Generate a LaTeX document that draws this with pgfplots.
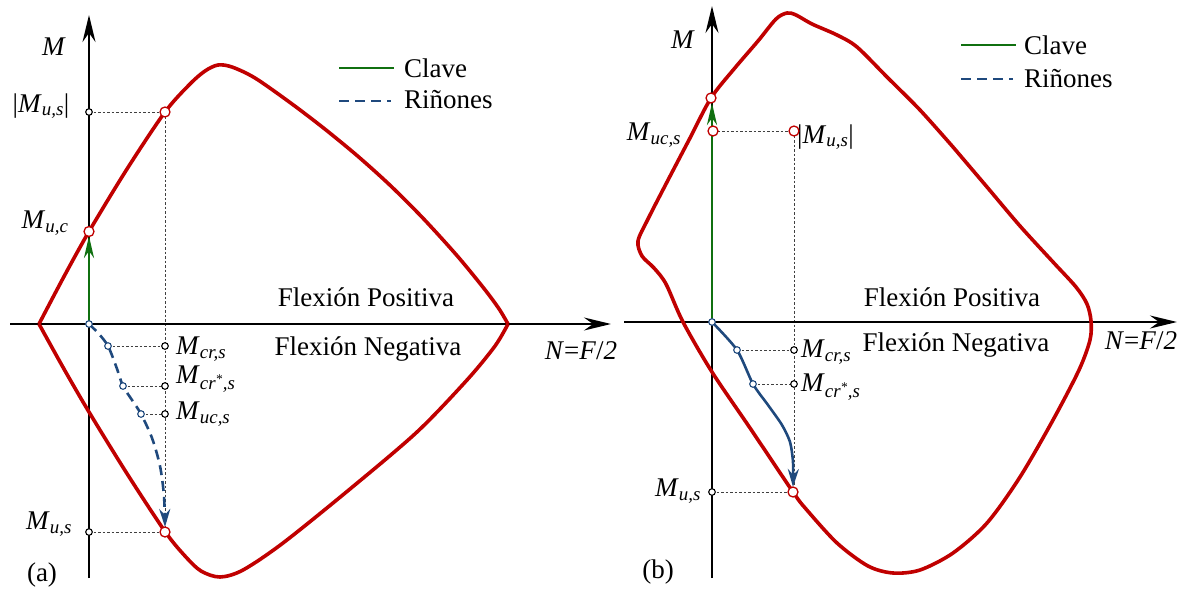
\documentclass[border=0pt]{standalone}
\usepackage{pgfplots}
\pgfplotsset{compat=1.18}
\usepackage{fontspec}
\setmainfont{Liberation Serif}
\usetikzlibrary{arrows.meta}

\definecolor{curvered}{RGB}{192,0,0}
\definecolor{clavegreen}{RGB}{16,112,16}
\definecolor{rinblue}{RGB}{31,73,125}

% italic moment symbol with an italic subscript
\newcommand{\Msub}[1]{\textit{M}\textsubscript{\textit{#1}}}

\begin{document}
\begin{tikzpicture}[
  lbl/.style={font=\fontsize{27}{32}\selectfont, inner sep=0pt},
]
\begin{axis}[
  name=ax,
  x=1pt, y=1pt,
  xmin=0, xmax=1191, ymin=0, ymax=589,
  y dir=reverse,
  hide axis, clip=false,
  guide/.style={black!75, line width=0.9pt, dash pattern=on 2.5pt off 2pt},
  axisline/.style={black, line width=1.9pt, -{Stealth[length=27pt,width=13pt,inset=9pt]}},
  redcurve/.style={curvered, line width=3.6pt, smooth, tension=0.5},
  redpt/.style={only marks, mark=*, mark size=5pt, mark options={fill=white, draw=curvered, line width=1.3pt}},
  blkpt/.style={only marks, mark=*, mark size=3.3pt, mark options={fill=white, draw=black, line width=1.1pt}},
  bluept/.style={only marks, mark=*, mark size=3.3pt, mark options={fill=white, draw=rinblue, line width=1.1pt}},
]

% ---------------- panel (a) ----------------
% projection guides
\addplot[guide] coordinates {(89,112) (165,112)};
\addplot[guide] coordinates {(165,112) (165,532)};
\addplot[guide] coordinates {(89,532) (165,532)};
\addplot[guide] coordinates {(108,346) (165,346)};
\addplot[guide] coordinates {(123,386) (165,386)};
\addplot[guide] coordinates {(141,414) (165,414)};

% axes
\addplot[axisline] coordinates {(89,578) (89,15)};
\addplot[axisline] coordinates {(10,324) (611,324)};

% interaction diagram, upper and lower branches
\addplot[redcurve] coordinates {
  (39,324) (64,276.5) (89,231.5) (127,169) (165,112) (190,84) (205,71)
  (218,65) (232,67) (255,78) (290,102.5) (323,127.6) (357,155.5) (390,185.2)
  (423,218.2) (457,255.6) (484,288.5) (499,308.8) (508,324)};
\addplot[redcurve] coordinates {
  (39,324) (64,369) (89,412) (127,473.6) (165,531.5) (185,556) (201,571)
  (220,577) (243,570) (283,543) (350,489) (417,432) (467,380) (495,346)
  (508,324)};

% Clave path
\addplot[clavegreen, line width=2.8pt, -{Stealth[length=22pt,width=10pt,inset=7pt]}]
  coordinates {(89,324) (89,236)};

% Riñones path
\addplot[rinblue, line width=2.6pt, dash pattern=on 10pt off 6pt, smooth, tension=0.5,
  -{Stealth[length=18pt,width=11pt,inset=6pt]}]
  coordinates {(89,324) (99,334) (108,346) (116,366) (123,386) (132,400)
               (141,414) (152,438) (160,466) (164,496) (165,527)};

% points
\addplot[blkpt] coordinates {(89,112) (89,532) (165,346) (165,386) (165,414)};
\addplot[bluept] coordinates {(89,324) (108,346) (123,386) (141,414)};
\addplot[redpt] coordinates {(165,112) (89,231.5) (165,532)};

% legend samples
\addplot[clavegreen, line width=2.8pt] coordinates {(339,68) (394,68)};
\addplot[rinblue, line width=2.8pt, dash pattern=on 10pt off 6pt] coordinates {(339,101) (391,101)};

% ---------------- panel (b) ----------------
\addplot[guide] coordinates {(713,131) (794,131)};
\addplot[guide] coordinates {(794,131) (794,492)};
\addplot[guide] coordinates {(712,492) (794,492)};
\addplot[guide] coordinates {(737,350) (794,350)};
\addplot[guide] coordinates {(753,384) (794,384)};

\addplot[axisline] coordinates {(712,578) (712,6)};
\addplot[axisline] coordinates {(624,322) (1177,322)};

\addplot[redcurve] coordinates {
  (953,147) (920,110) (887,77) (857,47) (837,35) (812,24) (796,15) (787,13)
  (776,19) (758,41) (734,69) (711,98) (690,138) (667,182) (648,219)
  (638,241) (642,256) (654,268) (666,284) (683,322) (712,372) (750,428)
  (793,492) (806,509) (837,543) (868,566) (893,573) (920,570) (953,553)
  (987,523) (1020,477) (1053,420) (1079,370) (1090,340) (1091,321)
  (1087,304) (1076,287) (1053,262) (1020,226) (987,187) (953,147)};

\addplot[clavegreen, line width=2.8pt, -{Stealth[length=22pt,width=10pt,inset=7pt]}]
  coordinates {(712,322) (712,103)};

\addplot[rinblue, line width=2.6pt, smooth, tension=0.45,
  -{Stealth[length=18pt,width=11pt,inset=6pt]}]
  coordinates {(712,322) (737,350) (753,384) (768,405) (782,425) (790,442)
               (793,462) (793,487)};

\addplot[blkpt] coordinates {(712,492) (794,350) (794,384)};
\addplot[bluept] coordinates {(712,322) (737,350) (753,384)};
\addplot[redpt] coordinates {(711,98) (713,131) (794,131) (793,492)};

\addplot[clavegreen, line width=2.8pt] coordinates {(961,45) (1016,45)};
\addplot[rinblue, line width=2.8pt, dash pattern=on 10pt off 6pt] coordinates {(961,79) (1013,79)};

% ---------------- labels ----------------
% panel (a)
\node[lbl] at (axis cs:54,47) {\textit{M}};
\node[lbl] at (axis cs:41,106) {|\Msub{u,s}|};
\node[lbl] at (axis cs:45,223) {\Msub{u,c}};
\node[lbl, anchor=west] at (axis cs:176,349) {\Msub{cr,s}};
\node[lbl, anchor=west] at (axis cs:176,379) {\textit{M}\textsubscript{\textit{cr\textsuperscript{*},s}}};
\node[lbl, anchor=west] at (axis cs:176,414) {\Msub{uc,s}};
\node[lbl] at (axis cs:49,524) {\Msub{u,s}};
\node[lbl] at (axis cs:42,575) {(a)};
\node[lbl] at (axis cs:366,297) {Flexión Positiva};
\node[lbl] at (axis cs:368,349) {Flexión Negativa};
\node[lbl] at (axis cs:581,351) {\textit{N}=\textit{F}/\textit{2}};
\node[lbl, anchor=west] at (axis cs:404,68) {Clave};
\node[lbl, anchor=west] at (axis cs:404,100) {Riñones};

% panel (b)
\node[lbl] at (axis cs:683,40) {\textit{M}};
\node[lbl] at (axis cs:654,135) {\Msub{uc,s}};
\node[lbl, anchor=west] at (axis cs:797,137) {|\Msub{u,s}|};
\node[lbl, anchor=west] at (axis cs:801,352) {\Msub{cr,s}};
\node[lbl, anchor=west] at (axis cs:801,387) {\textit{M}\textsubscript{\textit{cr\textsuperscript{*},s}}};
\node[lbl] at (axis cs:678,491) {\Msub{u,s}};
\node[lbl] at (axis cs:658,572) {(b)};
\node[lbl] at (axis cs:952,297) {Flexión Positiva};
\node[lbl] at (axis cs:956,345) {Flexión Negativa};
\node[lbl] at (axis cs:1141,341) {\textit{N}=\textit{F}/\textit{2}};
\node[lbl, anchor=west] at (axis cs:1024,45) {Clave};
\node[lbl, anchor=west] at (axis cs:1024,79) {Riñones};
\end{axis}
\pgfresetboundingbox
\path (ax.south west) rectangle (ax.north east);
\end{tikzpicture}
\end{document}
